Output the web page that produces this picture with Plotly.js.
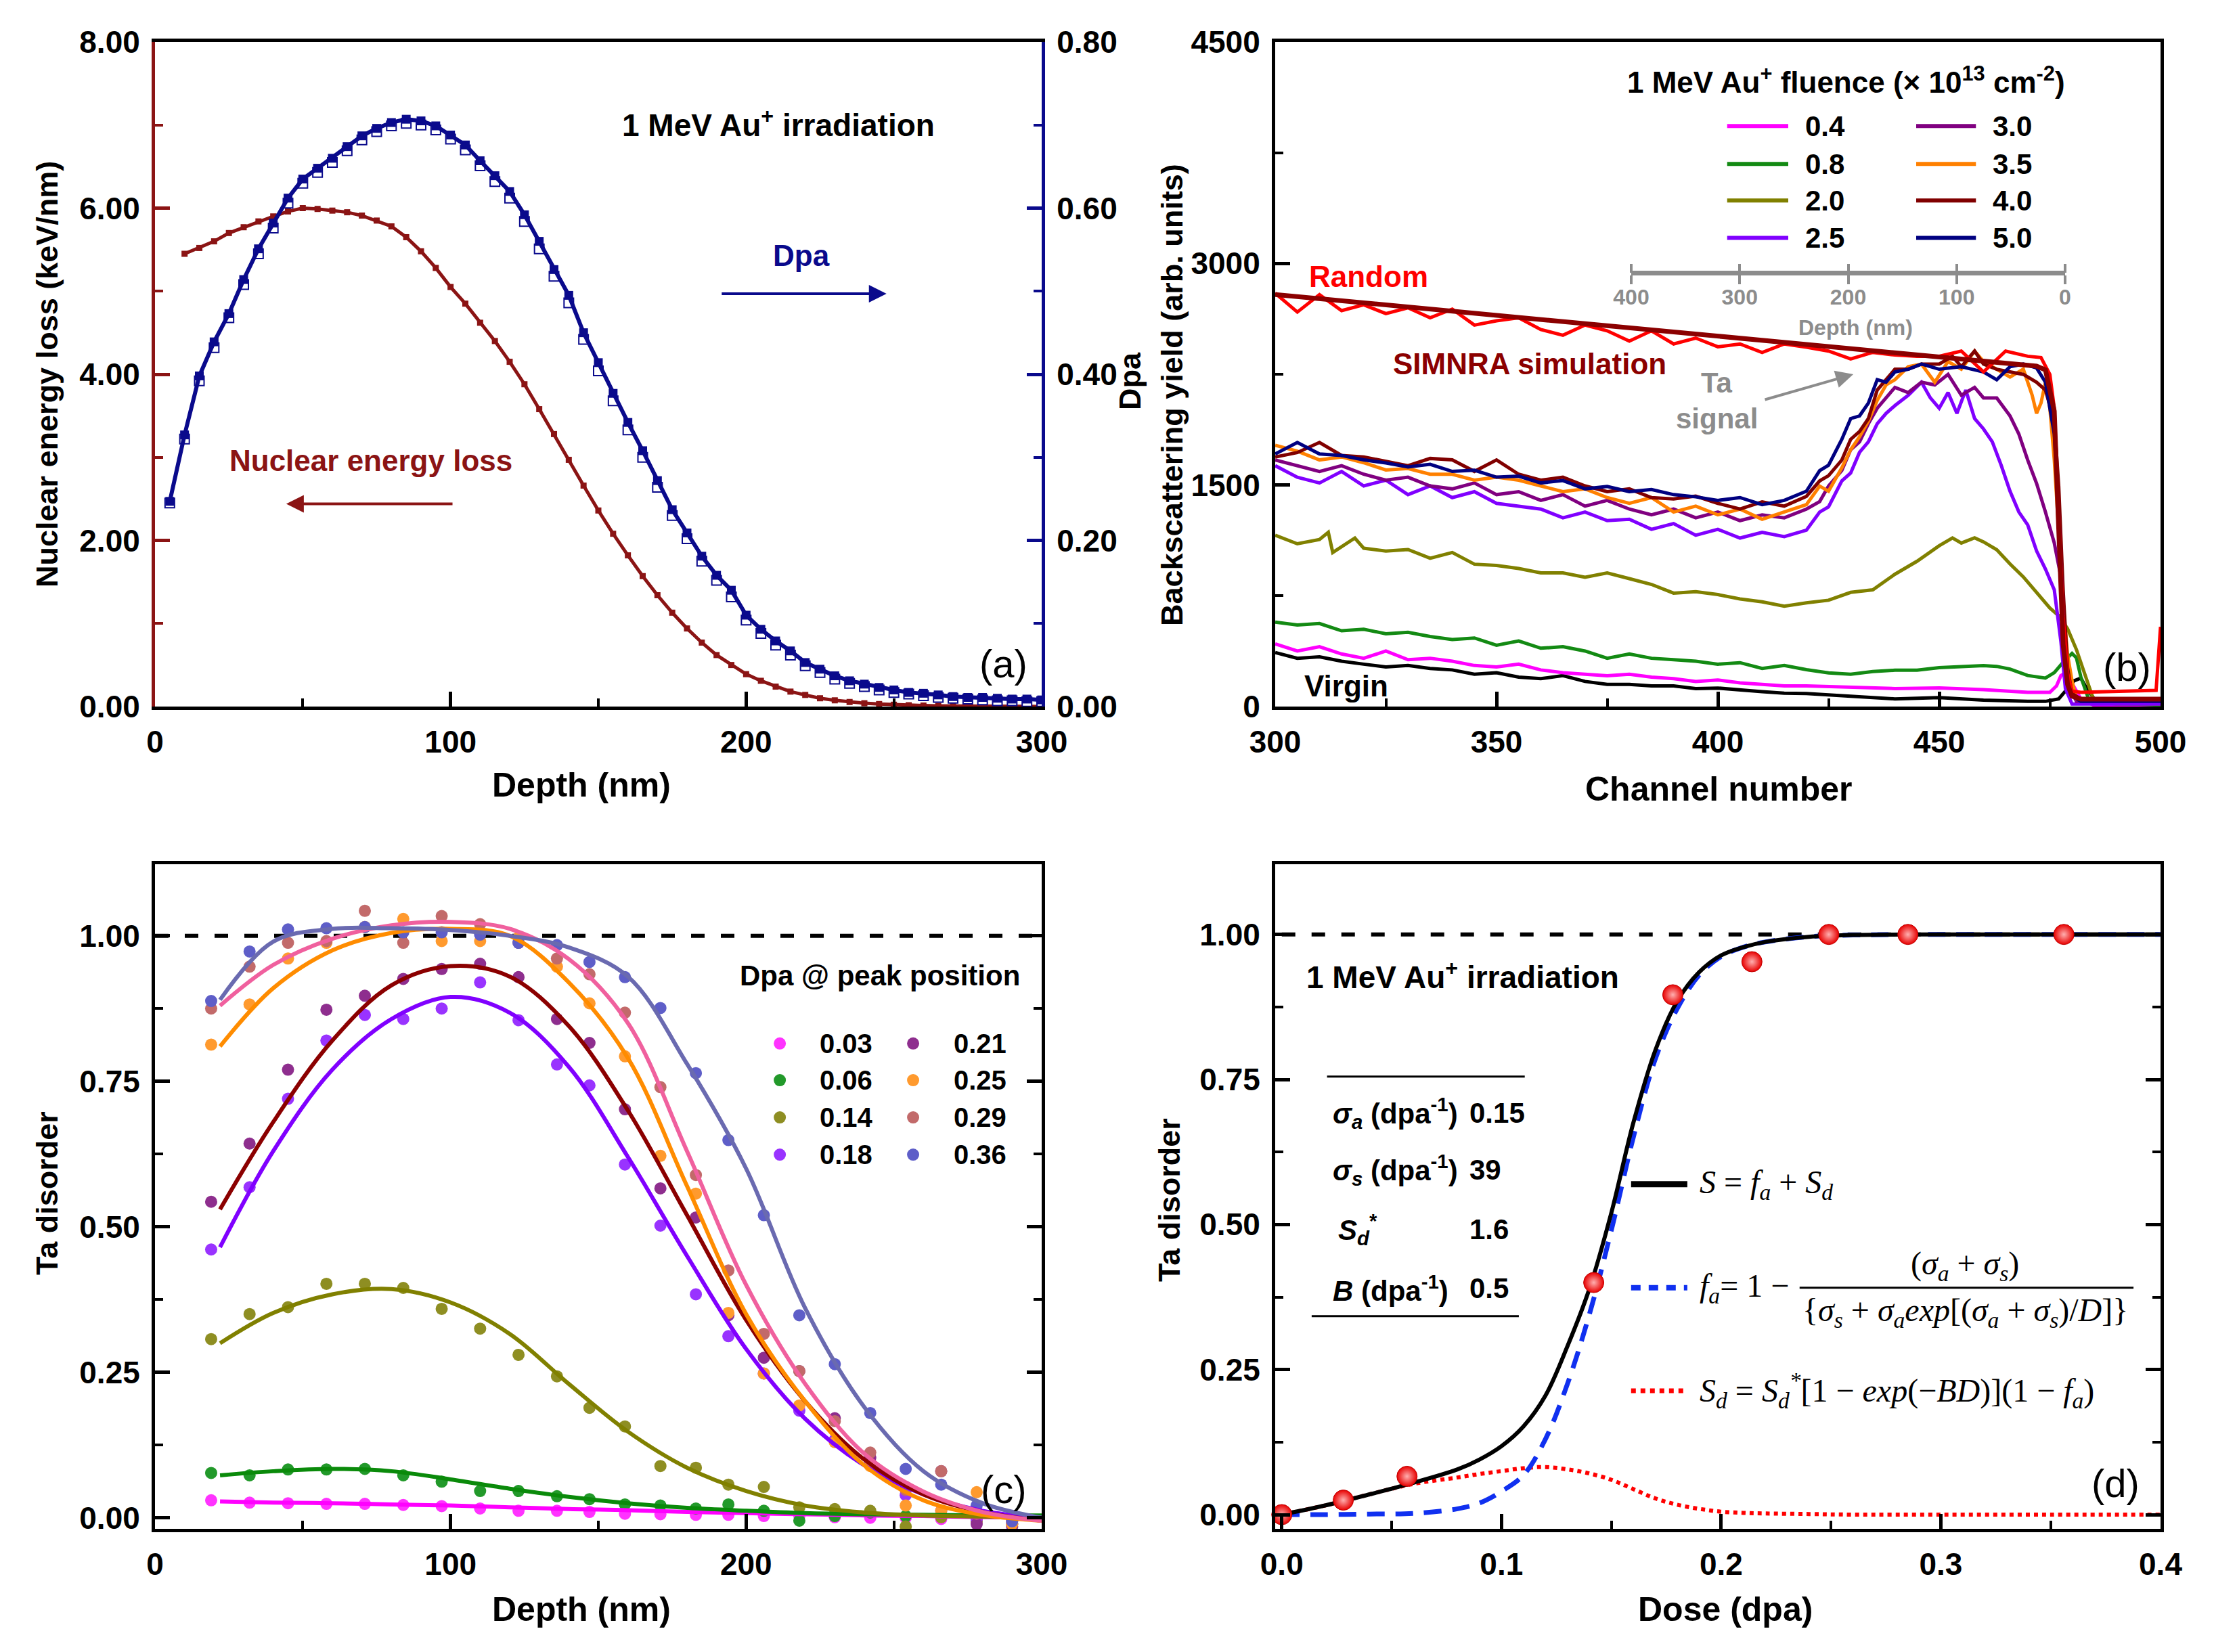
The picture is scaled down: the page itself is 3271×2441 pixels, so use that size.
<!DOCTYPE html>
<html>
<head>
<meta charset="utf-8">
<script src="https://cdn.plot.ly/plotly-3.0.1.min.js"></script>
<style>html,body{margin:0;padding:0;background:#fff}</style>
</head>
<body>
<div id="fig" style="width:3271px;height:2441px"></div>
<script>
// ---- data : panel (a) ----
const aDepthNel = [10,15,20,25,30,35,40,45,50,55,60,65,70,75,80,85,90,95,100,105,110,115,120,125,130,135,140,145,150,155,160,165,170,175,180,185,190,195,200,205,210,215,220,225,230,235,240,245,250,255,260,265,270,275,280,285,290,295,300];
const aNel = [5.45,5.52,5.60,5.70,5.77,5.84,5.90,5.96,6.00,5.99,5.97,5.95,5.91,5.85,5.78,5.65,5.48,5.28,5.05,4.85,4.62,4.40,4.15,3.88,3.58,3.28,2.97,2.66,2.36,2.08,1.82,1.57,1.34,1.13,0.94,0.77,0.62,0.50,0.39,0.31,0.24,0.18,0.14,0.10,0.075,0.055,0.04,0.03,0.022,0.016,0.012,0.009,0.007,0.005,0.004,0.003,0.002,0.0015,0.001];
const aDepthDpa = [5,10,15,20,25,30,35,40,45,50,55,60,65,70,75,80,85,90,95,100,105,110,115,120,125,130,135,140,145,150,155,160,165,170,175,180,185,190,195,200,205,210,215,220,225,230,235,240,245,250,255,260,265,270,275,280,285,290,295,300];
const aDpa = [0.247,0.327,0.398,0.439,0.473,0.514,0.551,0.582,0.612,0.635,0.648,0.660,0.674,0.687,0.696,0.703,0.707,0.705,0.699,0.688,0.676,0.657,0.639,0.620,0.592,0.560,0.526,0.495,0.450,0.414,0.377,0.342,0.308,0.272,0.237,0.209,0.181,0.158,0.140,0.110,0.093,0.079,0.067,0.053,0.045,0.037,0.031,0.027,0.023,0.020,0.017,0.016,0.014,0.012,0.011,0.011,0.010,0.009,0.009,0.008];
const aDpaOpen = [0.245,0.322,0.392,0.432,0.468,0.508,0.545,0.576,0.606,0.630,0.643,0.655,0.669,0.682,0.692,0.699,0.702,0.700,0.694,0.683,0.670,0.651,0.632,0.612,0.584,0.551,0.518,0.486,0.442,0.404,0.368,0.333,0.300,0.264,0.230,0.202,0.175,0.152,0.132,0.104,0.088,0.074,0.062,0.049,0.041,0.033,0.028,0.024,0.020,0.017,0.015,0.013,0.011,0.010,0.009,0.008,0.007,0.007,0.006,0.006];

// ---- data : panel (b) ----
const bChLow = [300,305,310,315,320,325,330,335,340,345,350,355,360,365,370,375,380,385,390,395,400,405,410,415];
const bChHigh = [300,305,310,315,320,325,330,335,340,345,350,355,360,365,370,375,380,385,390,395,400,405,410,415,420];
const bRandomCh = [300,305,310,315,320,325,330,335,340,345,350,355,360,365,370,375,380,385,390,395,400,405,410,415,420,425,430,435,440,445,450,455,460,465,470,473,475,476,477,478,479,480,482,490,495,499,500];
const bRandom = [2799,2671,2789,2681,2720,2661,2700,2632,2691,2583,2612,2632,2553,2514,2583,2544,2475,2544,2455,2495,2436,2455,2397,2455,2433,2407,2354,2398,2380,2372,2372,2407,2266,2407,2372,2363,2249,2020,1317,615,228,105,96,105,105,110,540];
const bSimCh = [300,472,474,476,477,478,479,480,482,500];
const bSim = [2790,2305,2280,2000,1200,420,150,70,50,50];
const bVirginTailCh = [420,430,440,450,460,470,474,477,479,480.5,482,483,485,488,500];
const bVirgin = [366,327,337,307,287,268,278,258,248,219,229,199,189,209,170,150,150,140,140,121,125,111,101,91,88,70,52,61,44,35,35,52,122,175,193,140,52,8,8];
const b04TailCh = [420,430,440,450,460,470,475,476.5,477.5,478.5,480,482,485,500];
const b04 = [425,376,405,356,327,376,317,327,307,278,268,287,248,229,219,209,219,199,189,170,180,160,150,140,140,131,122,126,114,96,96,140,210,228,158,52,8,8];
const b08TailCh = [420,425,430,435,440,445,450,455,460,463,466,470,474,476,478,480,481,482,484,500];
const b08 = [572,552,562,513,523,493,503,474,454,464,415,444,395,405,376,327,356,327,317,307,287,297,258,278,250,228,219,237,246,246,263,272,277,272,254,210,193,230,300,360,330,200,30,10];
const b20Ch = [300,305,310,312,313,315,318,320,325,330,335,340,345,350,355,360,365,370,375,380,385,390,395,400,405,410,415,420,425,430,435,440,445,450,453,455,458,460,463,466,469,472,475,477,479,481,483,485,490,500];
const b20 = [1160,1102,1131,1180,1043,1082,1141,1072,1053,1063,1004,1043,964,955,935,905,905,876,905,866,827,768,778,758,729,709,680,702,720,773,790,896,984,1089,1142,1107,1142,1115,1062,966,878,773,667,615,527,386,210,35,17,17];
const b25TailCh = [423,425,428,430,432,434,436,438,440,443,446,448,450,452,454,456,458,460,462,464,466,468,470,472,474,476,477.5,478.5,480,500];
const b25 = [1631,1553,1514,1592,1494,1533,1435,1494,1415,1455,1376,1357,1337,1278,1317,1259,1268,1200,1239,1160,1200,1141,1180,1151,1194,1317,1352,1528,1581,1721,1792,1915,1985,2038,2108,2196,2090,2020,2126,1985,2143,1950,1880,1792,1634,1458,1317,1230,1054,931,790,439,123,17,17];
const b30TailCh = [423,425,428,430,432,434,436,438,440,443,446,449,452,455,458,460,463,466,468,470,472,474,476,477.5,478.5,479.5,481,500];
const b30 = [1670,1631,1592,1631,1573,1533,1553,1494,1474,1514,1435,1455,1396,1435,1357,1396,1337,1298,1337,1278,1317,1259,1298,1278,1337,1388,1493,1598,1739,1792,1915,2020,2090,2161,2126,2196,2178,2249,2108,2161,2090,2090,1968,1845,1669,1511,1317,1107,878,439,123,35,35];
const b35TailCh = [423,425,428,430,432,434,436,438,440,443,446,449,452,455,458,460,463,466,469,471,472,473,474,475,476,477,478,479,480,481,500];
const b35 = [1769,1729,1670,1690,1651,1602,1612,1573,1573,1533,1553,1533,1494,1455,1474,1415,1376,1415,1317,1357,1298,1337,1268,1317,1367,1493,1458,1616,1739,1827,1932,2073,2178,2213,2301,2319,2196,2336,2284,2407,2336,2284,2231,2284,2108,1985,2055,2196,2020,1669,1142,702,351,175,52,52];
const b40TailCh = [423,425,428,430,432,434,436,438,440,443,446,450,453,455,458,460,463,466,469,472,474,476,477,478,479,480,482,500];
const b40 = [1690,1720,1788,1700,1690,1660,1631,1680,1670,1592,1670,1573,1533,1553,1494,1455,1474,1415,1406,1425,1376,1337,1386,1357,1423,1528,1563,1669,1809,1862,1950,2143,2213,2284,2284,2319,2319,2372,2301,2407,2319,2284,2266,2249,2196,2143,1932,1493,790,263,88,52,52];
const b50TailCh = [423,425,428,430,432,434,436,438,440,443,446,450,455,460,463,466,469,472,474,476,477,478,479,480,482,500];
const b50 = [1710,1788,1710,1700,1670,1650,1622,1640,1592,1600,1553,1560,1514,1530,1474,1490,1455,1470,1435,1420,1396,1415,1367,1396,1458,1598,1634,1809,1950,1968,2055,2213,2196,2266,2284,2319,2284,2301,2266,2213,2301,2319,2293,2196,1845,1317,615,175,70,35,35];
const bFluence = ['0.4','0.8','2.0','2.5','3.0','3.5','4.0','5.0'];
const bInsetDepthTicks = [400,300,200,100,0];

// ---- data : panel (c) ----
const cDepthPts = [19,32,45,58,71,84,97,110,123,136,147,159,171,183,194,206,218,230,242,254,266,278,290];
const cFitDepth = [22,40,60,80,100,120,140,160,180,200,220,240,260,280,300];
const cDpaLabels = ['0.03','0.06','0.14','0.18','0.21','0.25','0.29','0.36'];
const cPts003 = [0.030,0.026,0.025,0.024,0.024,0.022,0.020,0.016,0.012,0.012,0.010,0.007,0.006,0.005,0.005,0.003,0.003,0.001,0.000,0.000,-0.002,-0.004,-0.006];
const cPts006 = [0.077,0.073,0.083,0.083,0.084,0.073,0.062,0.046,0.046,0.037,0.032,0.023,0.021,0.016,0.023,0.012,-0.005,0.003,0.009,0.003,0.003,0.003,-0.002];
const cPts014 = [0.307,0.350,0.362,0.402,0.402,0.395,0.359,0.325,0.280,0.243,0.189,0.157,0.089,0.086,0.057,0.053,0.018,0.015,0.012,-0.015,0.001,-0.006,-0.011];
const cPts018 = [0.461,0.568,0.720,0.820,0.864,0.857,0.875,0.920,0.855,0.779,0.743,0.607,0.502,0.384,0.312,0.248,0.184,0.134,0.094,0.039,0.012,-0.002,-0.011];
const cPts021 = [0.543,0.643,0.770,0.873,0.897,0.926,0.943,0.952,0.929,0.857,0.816,0.702,0.566,0.516,0.348,0.275,0.252,0.171,0.103,0.053,0.080,-0.011,-0.015];
const cPts025 = [0.813,0.882,0.961,0.988,1.015,1.029,0.991,0.991,0.997,0.947,0.884,0.793,0.622,0.557,0.352,0.248,0.193,0.130,0.089,0.021,0.012,0.044,-0.011];
const cPts029 = [0.875,0.947,0.988,0.991,1.043,0.988,1.034,1.020,0.988,0.961,0.934,0.868,0.740,0.589,0.425,0.316,0.252,0.166,0.112,0.048,0.080,0.007,-0.005];
const cPts036 = [0.888,0.973,1.011,1.013,1.015,1.006,1.006,1.002,0.988,0.984,0.955,0.929,0.876,0.764,0.649,0.520,0.348,0.264,0.180,0.084,0.057,0.021,-0.006];
const cFit003 = [0.028,0.026,0.025,0.023,0.021,0.018,0.015,0.013,0.010,0.008,0.006,0.004,0.003,0.001,0.000];
const cFit006 = [0.073,0.080,0.084,0.080,0.066,0.050,0.036,0.025,0.017,0.012,0.008,0.006,0.005,0.004,0.004];
const cFit014 = [0.300,0.352,0.384,0.393,0.370,0.316,0.230,0.148,0.086,0.046,0.021,0.009,0.004,0.002,0.000];
const cFit018 = [0.465,0.630,0.770,0.857,0.895,0.868,0.775,0.620,0.450,0.290,0.170,0.090,0.040,0.012,0.000];
const cFit021 = [0.530,0.680,0.820,0.915,0.948,0.930,0.845,0.700,0.520,0.340,0.200,0.100,0.040,0.010,-0.005];
const cFit025 = [0.810,0.910,0.975,1.005,1.012,1.000,0.920,0.790,0.570,0.350,0.200,0.090,0.030,0.005,-0.005];
const cFit029 = [0.880,0.950,0.995,1.018,1.024,1.012,0.960,0.850,0.630,0.400,0.230,0.110,0.045,0.010,-0.005];
const cFit036 = [0.890,0.990,1.012,1.013,1.010,1.000,0.980,0.930,0.780,0.600,0.360,0.190,0.080,0.025,0.000];
const cRefDepth = [0, 300];
const unity = [1, 1];

// ---- data : panel (d) ----
const dDosePts = [0.0,0.028,0.057,0.142,0.178,0.214,0.249,0.285,0.356];
const dDisorderPts = [0.0,0.025,0.066,0.40,0.896,0.953,1.0,1.0,1.0];
const dDose = [0,0.02,0.04,0.06,0.08,0.09,0.10,0.11,0.12,0.13,0.14,0.15,0.16,0.17,0.18,0.19,0.20,0.21,0.22,0.24,0.26,0.30,0.35,0.40];
const dS = [0,0.016,0.035,0.055,0.078,0.095,0.118,0.152,0.205,0.290,0.389,0.520,0.675,0.800,0.885,0.935,0.964,0.978,0.987,0.996,0.999,1.0,1.0,1.0];
const dFa = [0,0,0.001,0.002,0.010,0.020,0.040,0.068,0.130,0.225,0.345,0.490,0.650,0.785,0.872,0.930,0.962,0.978,0.987,0.996,0.999,1.0,1.0,1.0];
const dSd = [0,0.016,0.035,0.053,0.064,0.070,0.075,0.080,0.082,0.078,0.071,0.060,0.044,0.028,0.017,0.010,0.005,0.003,0.002,0.001,0,0,0,0];
const dRefDose = [0, 0.4];
const dParamLabels = ['<i>σ<sub>a</sub></i> (dpa<sup>-1</sup>)', '<i>σ<sub>s</sub></i> (dpa<sup>-1</sup>)', '<i>S<sub>d</sub></i><sup>*</sup>', '<i>B</i> (dpa<sup>-1</sup>)'];
const dParamValues = ['0.15', '39', '1.6', '0.5'];

// ---- style ----
const W = 3271, H = 2441;
const PX = v => v / W;
const PY = v => 1 - v / H;
const NARROW = '"Liberation Sans Narrow", "Arial Narrow", "Liberation Sans", Arial, sans-serif';
const SANS = '"Liberation Sans", Arial, sans-serif';
const SERIF = '"Liberation Serif", "Times New Roman", serif';
const NAVY = '#0A0A8C', DRED = '#8B1414', GREY = '#8C8C8C';
const bColors = ['#FF00FF','#138A13','#808000','#8000FF','#800080','#FF8000','#800000','#000080'];
const cPtColors = ['#FF33FF','#22992A','#8E8E22','#9933FF','#8E2E8E','#FF9A2E','#C26A6A','#5E5EC8'];
const cLineColors = ['#FF00FF','#0A8A0A','#808000','#8000FF','#8B0000','#FF8C00','#F0609E','#6A6AB0'];

const domA = [PX(229), PX(1539)], domB = [PX(1884), PX(3192)];
const domTop = [PY(1044), PY(62)], domBot = [PY(2259), PY(1277)];

function ax(o) {
	const tc = o.tickcolor || '#000';
	const base = {
		showgrid: false, zeroline: false, showline: true, linecolor: '#000', linewidth: 5,
		ticks: 'inside', ticklen: 22, tickwidth: 5, tickcolor: tc,
		tickfont: { family: NARROW, size: 46, color: '#000', weight: 'bold' },
		ticklabelstandoff: 8, fixedrange: true
	};
	const minor = Object.assign({ ticks: 'inside', ticklen: 12, tickwidth: 4, tickcolor: tc }, o.minor || {});
	return Object.assign(base, o, { minor });
}

function txt(text, x, y, ref, o) {
	o = o || {};
	return {
		text, x, y, xref: ref[0], yref: ref[1], showarrow: false,
		xanchor: o.xa || 'center', yanchor: o.ya || 'middle', textangle: o.rot || 0,
		font: { family: o.fam || NARROW, size: o.size || 44, color: o.color || '#000', weight: o.w || 'bold', style: o.style || 'normal' }
	};
}

function arrow(x0, y0, x1, y1, ref, color) {
	return { x: x1, y: y1, ax: x0, ay: y0, xref: ref[0], yref: ref[1], axref: ref[0], ayref: ref[1],
		text: '', showarrow: true, arrowhead: 2, arrowsize: 1.3, arrowwidth: 4, arrowcolor: color };
}

function seg(x0, x1, y, ref, color, width, dash) {
	return { type: 'line', xref: ref[0], yref: ref[1], x0, x1, y0: y, y1: y, line: { color, width, dash: dash || 'solid' } };
}

const traces = [];

// (a)
traces.push({ x: aDepthNel, y: aNel, xaxis: 'x', yaxis: 'y', mode: 'lines+markers',
	line: { color: DRED, width: 5 }, marker: { symbol: 'square', size: 9, color: DRED } });
traces.push({ x: aDepthDpa, y: aDpaOpen, xaxis: 'x', yaxis: 'y2', mode: 'markers',
	marker: { symbol: 'square', size: 14, color: '#fff', line: { color: NAVY, width: 2 } } });
traces.push({ x: aDepthDpa, y: aDpa, xaxis: 'x', yaxis: 'y2', mode: 'lines+markers',
	line: { color: NAVY, width: 6 }, marker: { symbol: 'square', size: 13, color: NAVY } });

// (b)
const bSeries = [
	[bChLow.concat(b04TailCh), b04],
	[bChLow.concat(b08TailCh), b08],
	[b20Ch, b20],
	[bChHigh.concat(b25TailCh), b25],
	[bChHigh.concat(b30TailCh), b30],
	[bChHigh.concat(b35TailCh), b35],
	[bChHigh.concat(b40TailCh), b40],
	[bChHigh.concat(b50TailCh), b50]
];
traces.push({ x: bChLow.concat(bVirginTailCh), y: bVirgin, xaxis: 'x2', yaxis: 'y3', mode: 'lines', line: { color: '#000', width: 5 } });
bSeries.forEach((s, i) => {
	traces.push({ x: s[0], y: s[1], xaxis: 'x2', yaxis: 'y3', mode: 'lines', line: { color: bColors[i], width: 5 } });
});
traces.push({ x: bRandomCh, y: bRandom, xaxis: 'x2', yaxis: 'y3', mode: 'lines', line: { color: '#FF0000', width: 5 } });
traces.push({ x: bSimCh, y: bSim, xaxis: 'x2', yaxis: 'y3', mode: 'lines', line: { color: '#8B0000', width: 7 } });
// inset depth scale of (b): its own axes, no data
traces.push({ x: [], y: [], xaxis: 'x5', yaxis: 'y6', mode: 'lines' });
traces.push({ x: [], y: [], xaxis: 'x6', yaxis: 'y6', mode: 'lines' });

// (c)
const cPts = [cPts003, cPts006, cPts014, cPts018, cPts021, cPts025, cPts029, cPts036];
const cFits = [cFit003, cFit006, cFit014, cFit018, cFit021, cFit025, cFit029, cFit036];
traces.push({ x: cRefDepth, y: unity, xaxis: 'x3', yaxis: 'y4', mode: 'lines', line: { color: '#000', width: 6, dash: '20px,24px' } });
cPts.forEach((p, i) => {
	traces.push({ x: cDepthPts, y: p, xaxis: 'x3', yaxis: 'y4', mode: 'markers', marker: { size: 18, color: cPtColors[i] } });
});
cFits.forEach((f, i) => {
	traces.push({ x: cFitDepth, y: f, xaxis: 'x3', yaxis: 'y4', mode: 'lines', line: { color: cLineColors[i], width: 6, shape: 'spline', smoothing: 1 } });
});

// (d)
traces.push({ x: dRefDose, y: unity, xaxis: 'x4', yaxis: 'y5', mode: 'lines', line: { color: '#000', width: 6, dash: '20px,24px' } });
traces.push({ x: dDose, y: dSd, xaxis: 'x4', yaxis: 'y5', mode: 'lines', line: { color: '#FF0000', width: 6, dash: 'dot', shape: 'spline' } });
traces.push({ x: dDose, y: dFa, xaxis: 'x4', yaxis: 'y5', mode: 'lines', line: { color: '#1030F0', width: 7, dash: '26px,16px', shape: 'spline' } });
traces.push({ x: dDose, y: dS, xaxis: 'x4', yaxis: 'y5', mode: 'lines', line: { color: '#000', width: 6, shape: 'spline' } });
traces.push({ x: dDosePts, y: dDisorderPts, xaxis: 'x4', yaxis: 'y5', mode: 'markers', cliponaxis: false,
	marker: { size: 30, color: '#E80000', gradient: { type: 'radial', color: '#FFB0B0' }, line: { color: '#C00000', width: 1 } } });

traces.forEach(t => { t.type = 'scatter'; t.showlegend = false; t.hoverinfo = 'skip'; });

// ---- annotations & legend keys ----
const A = ['x', 'y'], B = ['x2', 'y3'], C = ['x3', 'y4'], D = ['x4', 'y5'], P = ['paper', 'paper'];
const ann = [
	// axis titles
	txt('Nuclear energy loss (keV/nm)', PX(69), PY(553), P, { rot: -90, fam: SANS, size: 45 }),
	txt('Dpa', PX(1669), PY(563), P, { rot: -90, fam: SANS, size: 45 }),
	txt('Depth (nm)', PX(859), PY(1160), P, { size: 50 }),
	txt('Backscattering yield (arb. units)', PX(1731), PY(584), P, { rot: -90, fam: SANS, size: 45 }),
	txt('Channel number', PX(2539), PY(1166), P, { size: 50 }),
	txt('Ta disorder', PX(69), PY(1763), P, { rot: -90, fam: SANS, size: 45 }),
	txt('Depth (nm)', PX(859), PY(2378), P, { size: 50 }),
	txt('Ta disorder', PX(1727), PY(1773), P, { rot: -90, fam: SANS, size: 45 }),
	txt('Dose (dpa)', PX(2549), PY(2378), P, { size: 50 }),
	// (a)
	txt('1 MeV Au<sup>+</sup> irradiation', 211, 7.02, A, { size: 46 }),
	txt('Dpa', 218.7, 5.43, A, { size: 44, color: NAVY }),
	arrow(191.4, 4.97, 247.5, 4.97, A, NAVY),
	txt('Nuclear energy loss', 73, 2.96, A, { size: 44, color: DRED }),
	arrow(101, 2.44, 44.4, 2.44, A, DRED),
	txt('(a)', 287, 0.52, A, { size: 58, w: 'normal' }),
	// (b)
	txt('1 MeV Au<sup>+</sup> fluence (× 10<sup>13</sup> cm<sup>-2</sup>)', 429, 4243, B, { size: 44 }),
	txt('Random', 321.1, 2911, B, { size: 44, color: '#FF0000' }),
	txt('SIMNRA simulation', 357.5, 2319, B, { size: 44, color: '#8B0000' }),
	txt('Ta', 399.8, 2195, B, { size: 42, color: GREY }),
	txt('signal', 399.8, 1952, B, { size: 42, color: GREY }),
	arrow(410.4, 2076, 430.6, 2250, B, GREY),
	txt('Virgin', 316, 142, B, { size: 44 }),
	txt('(b)', 492.4, 266, B, { size: 58, w: 'normal' }),
	txt('Depth (nm)', PX(2741), PY(484), P, { size: 32, color: GREY }),
	// (c)
	txt('Dpa @ peak position', 245.3, 0.932, C, { fam: SANS, size: 42 }),
	txt('(c)', 287.2, 0.049, C, { size: 58, w: 'normal' }),
	// (d)
	txt('1 MeV Au<sup>+</sup> irradiation', 0.0823, 0.930, D, { size: 46 }),
	txt('<i>S</i> = <i>f<sub>a</sub></i> + <i>S<sub>d</sub></i>', 0.1895, 0.5694, D, { xa: 'left', fam: SERIF, size: 48, w: 'normal' }),
	txt('<i>f<sub>a</sub></i>= 1 −', 0.1895, 0.391, D, { xa: 'left', fam: SERIF, size: 48, w: 'normal' }),
	txt('(<i>σ<sub>a</sub></i> + <i>σ<sub>s</sub></i>)', 0.311, 0.4294, D, { fam: SERIF, size: 48, w: 'normal' }),
	txt('{<i>σ<sub>s</sub></i> + <i>σ<sub>a</sub>exp</i>[(<i>σ<sub>a</sub></i> + <i>σ<sub>s</sub></i>)/<i>D</i>]}', 0.311, 0.349, D, { fam: SERIF, size: 48, w: 'normal' }),
	txt('<i>S<sub>d</sub></i> = <i>S<sub>d</sub><sup>*</sup></i>[1 − <i>exp</i>(−<i>BD</i>)](1 − <i>f<sub>a</sub></i>)', 0.1895, 0.2135, D, { xa: 'left', fam: SERIF, size: 48, w: 'normal' }),
	txt('(d)', 0.3794, 0.0537, D, { size: 58, w: 'normal' })
];
const shapes = [];

// (b) legend: two columns of four
const bRowsY = [3931, 3674, 3426, 3173];
bFluence.forEach((lab, i) => {
	const col = i < 4 ? 0 : 1, row = i % 4;
	const x0 = col ? 444.8 : 402.1, x1 = col ? 458.3 : 415.9, xt = col ? 461.8 : 419.4;
	shapes.push(seg(x0, x1, bRowsY[row], B, bColors[i], 6));
	ann.push(txt(lab, xt, bRowsY[row], B, { xa: 'left', size: 42 }));
});

// (c) legend: two columns of four
const cRowsY = [0.815, 0.752, 0.688, 0.624];
cDpaLabels.forEach((lab, i) => {
	const col = i < 4 ? 0 : 1, row = i % 4;
	const xm = col ? 256.5 : 211.4, xt = col ? 269.7 : 224.4;
	shapes.push({ type: 'circle', xref: 'x3', yref: 'y4', xsizemode: 'pixel', ysizemode: 'pixel',
		xanchor: xm, yanchor: cRowsY[row], x0: -9, x1: 9, y0: -9, y1: 9, fillcolor: cPtColors[i], line: { width: 0 } });
	ann.push(txt(lab, xt, cRowsY[row], C, { xa: 'left', fam: SANS, size: 40 }));
});

// (d) parameter table and curve keys
const dRowsY = [0.692, 0.594, 0.492, 0.39];
dParamLabels.forEach((lab, i) => {
	ann.push(txt(lab, i === 2 ? 0.025 : 0.0225, dRowsY[i], D, { xa: 'left', size: 42 }));
	ann.push(txt(dParamValues[i], 0.0847, dRowsY[i], D, { xa: 'left', size: 42 }));
});
shapes.push(seg(0.0206, 0.1106, 0.755, D, '#000', 3));
shapes.push(seg(0.0136, 0.1079, 0.342, D, '#000', 3));
shapes.push(seg(0.159, 0.1846, 0.5694, D, '#000', 9));
shapes.push(seg(0.159, 0.1846, 0.391, D, '#1030F0', 8, '14px,12px'));
shapes.push(seg(0.159, 0.1846, 0.2135, D, '#FF0000', 7, 'dot'));
shapes.push(seg(0.2357, 0.3877, 0.391, D, '#000', 3));

const insetTicks = {
	range: [400, 0], tickmode: 'array', tickvals: bInsetDepthTicks, showgrid: false, zeroline: false,
	ticks: 'outside', ticklen: 13, tickwidth: 4, tickcolor: GREY, fixedrange: true,
	domain: [PX(2410), PX(3051)], anchor: 'free', position: PY(403)
};

const layout = {
	width: W, height: H, margin: { l: 0, r: 0, t: 0, b: 0 },
	paper_bgcolor: '#fff', plot_bgcolor: 'rgba(0,0,0,0)', showlegend: false, hovermode: false,
	xaxis: ax({ domain: domA, anchor: 'y', range: [0, 300], tick0: 0, dtick: 100, minor: { tick0: 0, dtick: 50 }, mirror: true }),
	yaxis: ax({ domain: domTop, anchor: 'x', range: [0, 8], tick0: 0, dtick: 2, tickformat: '.2f', linecolor: DRED, tickcolor: DRED, minor: { tick0: 0, dtick: 1 } }),
	yaxis2: ax({ overlaying: 'y', side: 'right', anchor: 'x', range: [0, 0.8], tick0: 0, dtick: 0.2, tickformat: '.2f', linecolor: NAVY, tickcolor: NAVY, minor: { tick0: 0, dtick: 0.1 } }),
	xaxis2: ax({ domain: domB, anchor: 'y3', range: [300, 500], tick0: 300, dtick: 50, minor: { tick0: 300, dtick: 25 }, mirror: true }),
	yaxis3: ax({ domain: domTop, anchor: 'x2', range: [0, 4500], tick0: 0, dtick: 1500, minor: { tick0: 0, dtick: 750 }, mirror: true }),
	xaxis3: ax({ domain: domA, anchor: 'y4', range: [0, 300], tick0: 0, dtick: 100, minor: { tick0: 0, dtick: 50 }, mirror: true }),
	yaxis4: ax({ domain: domBot, anchor: 'x3', range: [-0.019, 1.123], tick0: 0, dtick: 0.25, tickformat: '.2f', minor: { tick0: 0, dtick: 0.125 }, mirror: 'ticks' }),
	xaxis4: ax({ domain: domB, anchor: 'y5', range: [-0.003, 0.4], tick0: 0, dtick: 0.1, tickformat: '.1f', minor: { tick0: 0, dtick: 0.05 }, mirror: true }),
	yaxis5: ax({ domain: domBot, anchor: 'x4', range: [-0.0245, 1.121], tick0: 0, dtick: 0.25, tickformat: '.2f', minor: { tick0: 0, dtick: 0.125 }, mirror: 'ticks' }),
	// inset depth scale of panel (b): lower half carries labels, upper half only ticks
	xaxis5: Object.assign({}, insetTicks, {
		side: 'bottom', showline: true, linecolor: GREY, linewidth: 7, ticklabelstandoff: -8,
		tickfont: { family: NARROW, size: 32, color: GREY, weight: 'bold' }
	}),
	xaxis6: Object.assign({}, insetTicks, { overlaying: 'x5', side: 'top', showline: false, showticklabels: false }),
	yaxis6: { domain: [PY(440), PY(370)], anchor: 'x5', visible: false, range: [0, 1], fixedrange: true },
	annotations: ann,
	shapes: shapes
};

Plotly.newPlot('fig', traces, layout, { staticPlot: true, displayModeBar: false });
</script>
</body>
</html>
